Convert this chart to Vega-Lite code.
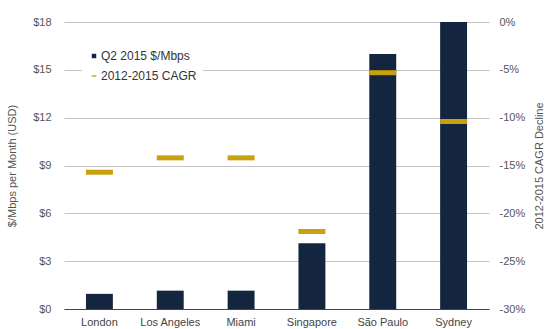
{
  "$schema": "https://vega.github.io/schema/vega-lite/v6.json",
  "width": 425,
  "height": 287,
  "autosize": "none",
  "padding": {"left": 64, "top": 22, "right": 61, "bottom": 20},
  "background": "white",
  "config": {
    "font": "Liberation Sans",
    "view": {"stroke": null},
    "axis": {"labelFont": "Liberation Sans", "titleFont": "Liberation Sans", "labelColor": "#555555", "titleColor": "#555555", "labelFontSize": 11, "titleFontSize": 11, "titleFontWeight": "normal"}
  },
  "data": {
    "values": [
      {"city": "London", "price": 0.95, "cagr": -15.7},
      {"city": "Los Angeles", "price": 1.15, "cagr": -14.2},
      {"city": "Miami", "price": 1.15, "cagr": -14.2},
      {"city": "Singapore", "price": 4.12, "cagr": -21.9},
      {"city": "São Paulo", "price": 16.0, "cagr": -5.3},
      {"city": "Sydney", "price": 18.0, "cagr": -10.4}
    ]
  },
  "encoding": {
    "x": {
      "field": "city", "type": "nominal", "sort": null,
      "scale": {"paddingInner": 0.62, "paddingOuter": 0.31},
      "axis": {"title": null, "labelAngle": 0, "ticks": false, "labelPadding": 7, "domainColor": "#444444", "domainWidth": 1.2, "labelFontSize": 11, "labelColor": "#444444"}
    }
  },
  "layer": [
    {
      "mark": {"type": "bar"},
      "encoding": {
        "y": {
          "field": "price", "type": "quantitative",
          "scale": {"domain": [0, 18], "nice": false},
          "axis": {"title": "$/Mbps per Month (USD)", "values": [0, 3, 6, 9, 12, 15, 18], "labelExpr": "'$' + datum.value", "domain": false, "ticks": false, "labelPadding": 13, "titlePadding": 15, "gridColor": "#c4c4c4", "gridWidth": 1}
        },
        "color": {
          "datum": "Q2 2015 $/Mbps", "type": "nominal",
          "scale": {"domain": ["Q2 2015 $/Mbps", "2012-2015 CAGR"], "range": ["#14263f", "#c9a10f"]},
          "legend": {
            "title": null, "orient": "none", "legendX": 18, "legendY": 22,
            "fillColor": "white", "padding": 6,
            "labelFont": "Liberation Sans", "labelFontSize": 12, "labelColor": "#333333",
            "symbolSize": 20, "labelOffset": 1, "rowPadding": 8, "symbolStrokeWidth": 0,
            "symbolType": "square",
            "encode": {"symbols": {"update": {"shape": {"signal": "datum.value == '2012-2015 CAGR' ? 'M-1,-0.3H1V0.3H-1Z' : 'square'"}, "strokeWidth": {"value": 0}}}}
          }
        }
      }
    },
    {
      "mark": {"type": "tick", "thickness": 5, "size": 27, "opacity": 1},
      "encoding": {
        "y": {
          "field": "cagr", "type": "quantitative",
          "scale": {"domain": [-30, 0], "nice": false},
          "axis": {"orient": "right", "title": "2012-2015 CAGR Decline", "titleAngle": 270, "values": [0, -5, -10, -15, -20, -25, -30], "labelExpr": "datum.value + '%'", "domain": false, "ticks": false, "grid": false, "labelPadding": 10, "titlePadding": 20}
        },
        "color": {"datum": "2012-2015 CAGR", "type": "nominal"}
      }
    }
  ],
  "resolve": {"scale": {"y": "independent"}}
}
